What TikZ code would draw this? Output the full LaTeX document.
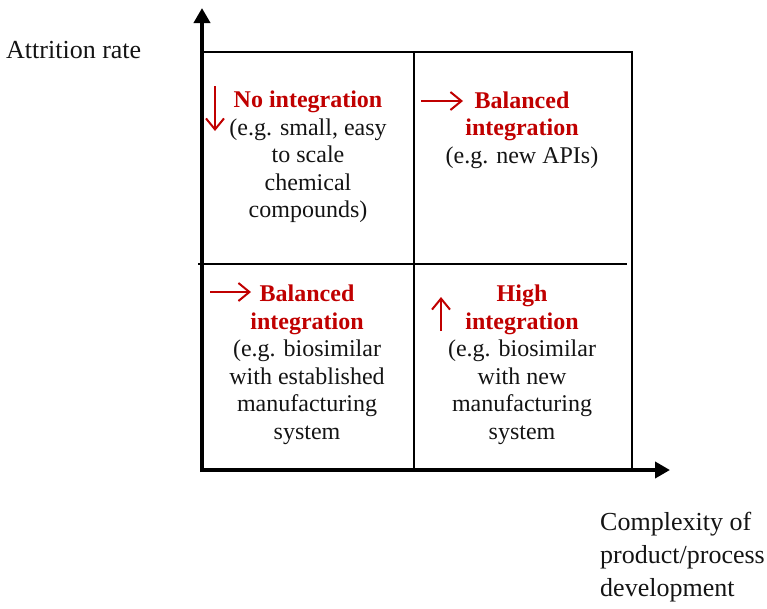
\documentclass[tikz,border=0pt]{standalone}
\usepackage{fontspec}
\setmainfont{Liberation Serif}
\usetikzlibrary{arrows.meta}
\definecolor{myred}{RGB}{192,0,0}
\definecolor{ink}{RGB}{20,20,20}
\tikzset{
  axis/.style={line width=4pt,-{Triangle[length=15pt,width=16pt]}},
  grid line/.style={line width=2pt},
  ind/.style={draw=myred,line width=2pt,-{Straight Barb[length=11pt,width=18pt,line width=2pt]}},
  quad/.style={align=center,text=ink,font=\fontsize{24}{27.5}\selectfont,inner sep=0pt},
  lbl/.style={align=left,text=ink,font=\fontsize{26}{33}\selectfont,inner sep=0pt}
}
\newcommand{\hdr}[1]{{\color{myred}\bfseries #1}}
\begin{document}
\begin{tikzpicture}[x=1pt,y=-1pt]
\useasboundingbox (0,0) rectangle (767,608);
% frame
\coordinate (o) at (202,470);
\coordinate (ytop) at (202,8);
\coordinate (xend) at (670,470);
\draw[grid line] (202,52) -- (632,52) -- (632,470);
\draw[grid line] (414,52) -- (414,470);
\draw[grid line] (198,264) -- (627,264);
\draw[axis] (202,472) -- (ytop);
\draw[axis] (200,470) -- (xend);
% axis labels
\node[lbl,anchor=west] (ylab) at (6,50) {Attrition rate};
\node[lbl,anchor=north west] (xlab) at (600,512) {Complexity of\\product/process\\development};
% quadrant texts
\node[quad] (q1) at (308,157) {\hdr{No integration}\\(e.g. small, easy\\to scale\\chemical\\compounds)};
\node[quad] (q2) at (522,130) {\hdr{Balanced}\\\hdr{integration}\\(e.g. new APIs)};
\node[quad] (q3) at (307,365) {\hdr{Balanced}\\\hdr{integration}\\(e.g. biosimilar\\with established\\manufacturing\\system};
\node[quad] (q4) at (522,365) {\hdr{High}\\\hdr{integration}\\(e.g. biosimilar\\with new\\manufacturing\\system};
% indicator arrows
\coordinate (a1s) at (215,86);
\coordinate (a1e) at (215,131);
\coordinate (a2s) at (421,101);
\coordinate (a2e) at (463,101);
\coordinate (a3s) at (210,292);
\coordinate (a3e) at (251,292);
\coordinate (a4s) at (441,331);
\coordinate (a4e) at (441,297);
\draw[ind] (a1s) -- (a1e);
\draw[ind] (a2s) -- (a2e);
\draw[ind] (a3s) -- (a3e);
\draw[ind] (a4s) -- (a4e);
\end{tikzpicture}
\end{document}
